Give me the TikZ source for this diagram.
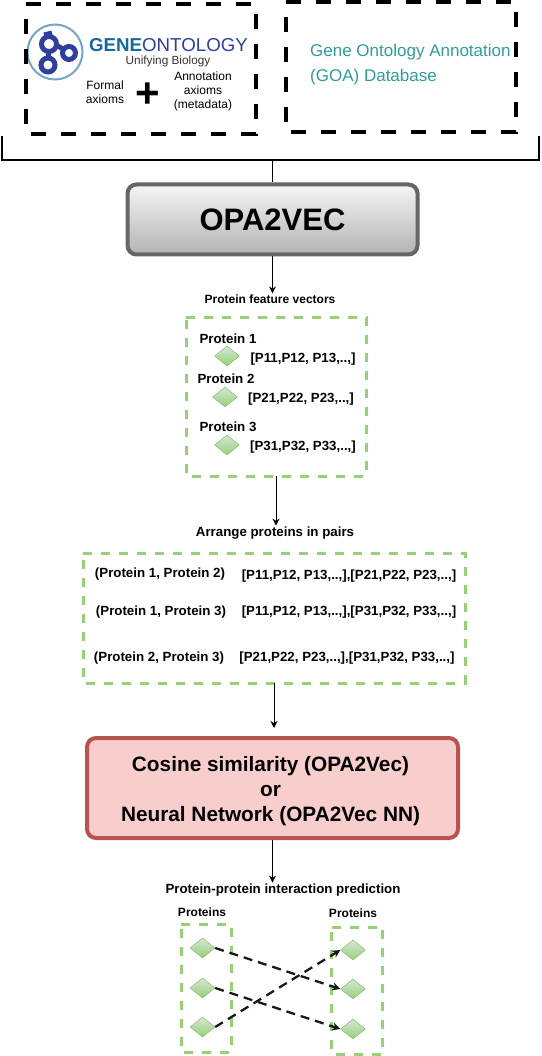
\documentclass[tikz,border=0pt]{standalone}
\usepackage{fontspec}
\setmainfont{Liberation Sans}
\usetikzlibrary{arrows.meta,positioning,shapes.geometric}
\definecolor{goateal}{HTML}{2F9C9C}
\definecolor{goblue}{HTML}{2E409C}
\definecolor{geneblue}{HTML}{14699F}
\definecolor{ringblue}{HTML}{73A6C6}
\definecolor{gogreen}{HTML}{97D077}
\definecolor{diamondedge}{HTML}{82B366}
\definecolor{diamondtop}{HTML}{D5E8D4}
\definecolor{redfill}{HTML}{F8CECC}
\definecolor{rededge}{HTML}{B85450}

\begin{document}
\begin{tikzpicture}[
  x=1pt, y=-1pt,
  blackdash/.style={draw=black, line width=4pt, dash pattern=on 15pt off 15pt},
  greendash/.style={draw=gogreen, line width=3pt, dash pattern=on 9pt off 9pt},
  area/.style={inner sep=0pt, outer sep=0pt},
  mainbox/.style={rounded corners=9pt, line width=4pt, align=center, inner sep=0pt},
  diam/.style={diamond, draw=diamondedge, top color=diamondtop, bottom color=gogreen, minimum width=25pt, minimum height=20pt, inner sep=0pt},
  title/.style={font=\fontsize{13.3}{15}\bfseries\selectfont, inner sep=1pt, yshift=-1pt, align=center},
  subtitle/.style={title, font=\fontsize{12}{14}\bfseries\selectfont},
  small/.style={font=\fontsize{12}{14}\selectfont, inner sep=0pt, align=center},
  arrow/.style={-{Stealth[length=7pt, width=7pt]}, line width=1pt},
  pair/.style={-{Stealth[length=8pt, width=8pt]}, line width=2.3pt, dash pattern=on 9pt off 6pt, draw=black!90}
]
\useasboundingbox (0,0) rectangle (541,1056);

% input boxes
\node[area, minimum width=230pt, minimum height=130pt] (onto) at (141,69) {};
\node[area, minimum width=230pt, minimum height=130pt] (goa) at (401,67) {};

% logo
\node[circle, draw=ringblue, line width=2pt, minimum size=55pt, inner sep=0pt] (ring) at (55,52) {};
\draw[goblue, line width=5pt] (49,44) circle (7.5pt) (48,65) circle (7pt) (69,53) circle (6.5pt);
\draw[goblue, line width=5pt] (49,51) -- (48,58) (56,45) -- (63,49) (44,35) -- (52,33);
\node[font=\fontsize{18.7}{22}\selectfont, inner sep=0pt] (gotext) at (168.5,45) {\textcolor{geneblue}{\bfseries GENE}\textcolor{goblue}{ONTOLOGY}};
\node[font=\fontsize{11.8}{13}\selectfont, text=black!80, inner sep=0pt] (unify) at (168,61) {Unifying Biology};
\node[small] (formal) at (105,92) {Formal\\axioms};
\node[font=\fontsize{42}{42}\bfseries\selectfont, inner sep=0pt] (plus) at (148,95) {+};
\node[small] (annot) at (203,91) {Annotation\\axioms\\(metadata)};

\node[text=goateal, font=\fontsize{17}{25}\selectfont, align=left, inner sep=0pt, anchor=west] (goatext) at (310,65) {Gene Ontology Annotation\\(GOA) Database};

% main boxes
\node[mainbox, draw=black!60, top color=black!4, bottom color=black!30, minimum width=290pt, minimum height=70pt, font=\fontsize{31}{34}\bfseries\selectfont] (opa) at (272.5,219.5) {OPA2VEC};
\coordinate (brleft) at (2,136);
\coordinate (brright) at (539,136);
\coordinate (brmid) at (opa.north |- 0,160);
\draw[line width=1.8pt] (brleft) -- (brleft |- brmid) -- (brright |- brmid) -- (brright);
\draw[line width=1.5pt] (brmid) -- (brmid |- opa.north);

% protein vectors
\node[subtitle] (feattitle) at (270,298) {Protein feature vectors};
\node[area, minimum width=180pt, minimum height=159pt] (vecbox) at (276,396.5) {};
\node[title] (prot1) at (228,338) {Protein 1};
\node[diam] (d1) at (227,356) {};
\node[title] (vec1) at (303,358) {[P11,P12, P13,..,]};
\node[title] (prot2) at (226,378) {Protein 2};
\node[diam] (d2) at (225,397) {};
\node[title] (vec2) at (301,398) {[P21,P22, P23,..,]};
\node[title] (prot3) at (228,426) {Protein 3};
\node[diam] (d3) at (227,445) {};
\node[title] (vec3) at (303,446) {[P31,P32, P33,..,]};

% pairs
\node[title] (pairtitle) at (275,532) {Arrange proteins in pairs};
\node[area, minimum width=382pt, minimum height=130pt] (pairbox) at (274,618) {};
\node[title] (p12) at (160,573) {(Protein 1, Protein 2)};
\node[title] (v12) at (349,575) {[P11,P12, P13,..,],[P21,P22, P23,..,]};
\node[title] (p13) at (161,611) {(Protein 1, Protein 3)};
\node[title] (v13) at (349,611) {[P11,P12, P13,..,],[P31,P32, P33,..,]};
\node[title] (p23) at (159,657) {(Protein 2, Protein 3)};
\node[title] (v23) at (347,657) {[P21,P22, P23,..,],[P31,P32, P33,..,]};

\node[mainbox, draw=rededge, fill=redfill, minimum width=371pt, minimum height=100pt] (cosine) at (272.5,788) {};
\node[font=\fontsize{20.8}{25}\bfseries\selectfont, align=center, inner sep=0pt] (cosinetext) at (270.5,791) {Cosine similarity (OPA2Vec)\\or\\Neural Network (OPA2Vec NN)};
\coordinate (cosinetip) at (274,728);

% prediction
\node[title] (predtitle) at (283,889) {Protein-protein interaction prediction};
\node[subtitle] (leftlabel) at (202,911) {Proteins};
\node[subtitle] (rightlabel) at (353,912) {Proteins};
\node[area, minimum width=50pt, minimum height=128pt] (leftbox) at (206,988) {};
\node[area, minimum width=51pt, minimum height=127pt] (rightbox) at (357,990.5) {};
\node[diam] (l1) at (202.5,948) {};
\node[diam] (l2) at (202.5,988) {};
\node[diam] (l3) at (202.5,1027) {};
\node[diam] (r1) at (353,950) {};
\node[diam] (r2) at (353,989) {};
\node[diam] (r3) at (353,1029) {};

\foreach \bx/\sty in {onto/blackdash, goa/blackdash, vecbox/greendash, pairbox/greendash, leftbox/greendash, rightbox/greendash}
  \draw[\sty] (\bx.north west) -- (\bx.north east) -- (\bx.south east) -- (\bx.south west) -- cycle;

\draw[arrow] (opa.south) -- (opa.south |- feattitle.north);
\draw[arrow] (vecbox.south) -- (vecbox.south |- pairtitle.north);
\draw[arrow] (pairbox.south) -- (cosinetip);
\draw[arrow] (cosine.south) -- (cosine.south |- predtitle.north);
\draw[pair] (l1.east) -- (r2.west);
\draw[pair] (l2.east) -- (r3.west);
\draw[pair] (l3.east) -- (r1.west);
\end{tikzpicture}
\end{document}
